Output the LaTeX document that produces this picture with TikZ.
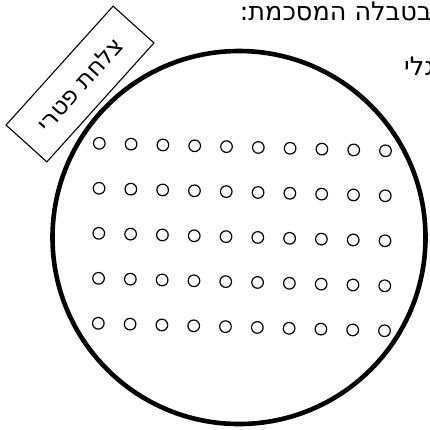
\documentclass[tikz,border=0pt]{standalone}
\usepackage{fontspec}
\newfontfamily\heb[Script=Hebrew]{DejaVu Sans}
\TeXXeTstate=1
\begin{document}
\begin{tikzpicture}[x=1pt,y=-1pt,
  dish/.style={draw, circle, line width=4.6pt, minimum size=373pt, inner sep=0pt},
  hole/.style={draw, circle, line width=1.2pt, minimum size=11.6pt, inner sep=0pt},
  label box/.style={draw, fill=white, line width=1.1pt, minimum width=160pt, minimum height=55pt, inner sep=0pt, rotate=48, font=\heb\fontsize{24}{28}\selectfont},
  heading/.style={inner sep=0pt, font=\heb\fontsize{25.5}{30}\selectfont}
]
\useasboundingbox (0,0) rectangle (430,429);
\clip (0,0) rectangle (430,429);
\node[dish] (dish) at (239,237.5) {};
\foreach \j in {0,...,4}{
  \foreach \i in {0,...,9}{
    \node[hole] (h-\j-\i) at ({99.3+31.8*\i-0.25*\j},{143.3+0.83*\i+45*\j}) {};
  }
}
\node[label box] (plate) at (80,84) {\beginR צלחת פטרי\endR};
\node[heading, anchor=base east] (t1) at (432,20.5) {\beginR בטבלה המסכמת:\endR};
\node[heading, anchor=base east] (t2) at (435,75) {\beginR גלי\endR};
\end{tikzpicture}
\end{document}
